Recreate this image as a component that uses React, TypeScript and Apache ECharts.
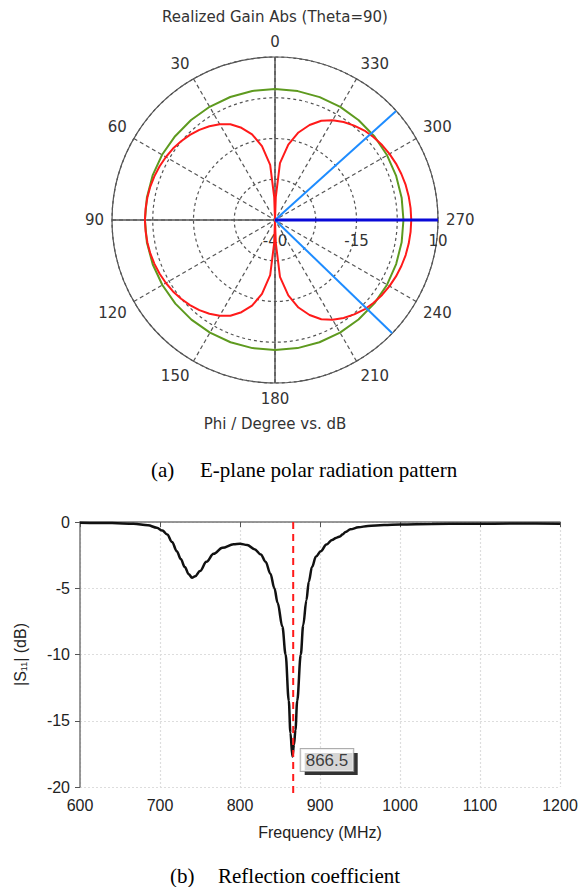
import React, { useEffect, useRef } from 'react';
import * as echarts from 'echarts';

// ---------- Polar (E-plane) data ----------
const angleTicks = [0, 30, 60, 90, 120, 150, 180, 210, 240, 270, 300, 330];
const radiusMin = -40;
const radiusMax = 10;

const redPhi = [0, 2, 5, 10, 15, 20, 25, 30, 35, 40, 45, 50, 55, 60, 65, 70, 75, 80, 85, 90, 95, 100, 105, 110, 115, 120, 125, 130, 135, 140, 145, 150, 155, 160, 165, 170, 175, 178, 180, 182, 185, 190, 195, 200, 205, 210, 215, 220, 225, 230, 235, 240, 245, 250, 255, 260, 265, 270, 275, 280, 285, 290, 295, 300, 305, 310, 315, 320, 325, 330, 335, 340, 345, 350, 355, 358, 360];
const redGain = [-40, -33, -23, -17, -12.8, -9.9, -7.6, -6.1, -4.9, -3.9, -3.1, -2.4, -1.8, -1.35, -0.95, -0.65, -0.4, -0.25, -0.15, -0.1, -0.15, -0.25, -0.4, -0.65, -0.95, -1.35, -1.8, -2.4, -3.1, -3.9, -4.9, -6.1, -7.6, -9.9, -12.8, -17, -23, -33, -40, -33, -22.5, -16.5, -12.2, -9.0, -6.4, -4.7, -3.3, -2.2, -1.2, -0.5, 0.1, 0.55, 0.95, 1.25, 1.5, 1.65, 1.75, 1.8, 1.75, 1.65, 1.5, 1.25, 0.95, 0.55, 0.1, -0.5, -1.2, -2.2, -3.3, -4.7, -6.4, -9.0, -12.2, -16.5, -22.5, -33, -40];

const greenPhi = [0, 10, 20, 30, 40, 50, 60, 70, 80, 90, 100, 110, 120, 130, 140, 150, 160, 170, 180, 190, 200, 210, 220, 230, 240, 250, 260, 270, 280, 290, 300, 310, 320, 330, 340, 350, 360];
const greenGain = [0.2, 0.2, 0.15, 0.1, 0.05, 0.0, 0.0, -0.05, -0.1, -0.1, -0.1, -0.1, -0.1, -0.1, -0.1, -0.1, -0.1, -0.1, -0.1, -0.1, -0.1, -0.1, -0.15, -0.2, -0.3, -0.45, -0.55, -0.6, -0.55, -0.45, -0.3, -0.15, -0.05, 0.05, 0.1, 0.15, 0.2];

const beamEdgePhi = [312, 226];
const mainBeamPhi = 270;

// ---------- S11 data ----------
const freqMHz = [600, 640, 667, 685, 696, 703, 709, 715, 721, 726, 731, 736, 740, 744, 750, 758, 767, 778, 792, 800, 809, 818, 826, 832, 838, 843, 847, 853, 857, 861, 863, 865.5, 867.5, 869.3, 871.5, 876, 879, 883, 886, 890, 895, 901, 908, 915, 920, 925, 928, 932, 938, 948, 960, 980, 1000, 1040, 1084, 1150, 1200];
const s11dB = [-0.05, -0.08, -0.13, -0.25, -0.43, -0.65, -0.95, -1.5, -2.2, -2.8, -3.4, -3.95, -4.2, -4.1, -3.7, -3.0, -2.4, -1.95, -1.68, -1.65, -1.73, -2.05, -2.45, -3.0, -3.9, -5.0, -6.1, -7.9, -10.0, -13.5, -15.9, -17.7, -16.8, -15.7, -13.5, -10.0, -7.8, -5.9, -4.5, -3.4, -2.6, -2.2, -1.7, -1.35, -1.2, -1.1, -0.95, -0.75, -0.55, -0.4, -0.3, -0.23, -0.18, -0.15, -0.13, -0.12, -0.13];
const markerFreq = 866.5;
const markerDb = -17.7;
const markerLabel = '866.5';

const POLAR_FONT = '"DejaVu Sans", sans-serif';
const ARIAL = '"Liberation Sans", Arial, sans-serif';
const SERIF = '"Liberation Serif", "Times New Roman", serif';

function buildOption() {
  const redData = redPhi.map((p, i) => [redGain[i], p]);
  const greenData = greenPhi.map((p, i) => [greenGain[i], p]);
  const s11Data = freqMHz.map((f, i) => [f, s11dB[i]]);

  const polarLine = (name: string, data: any[], color: string, width: number, z = 3) => ({
    name,
    type: 'line',
    coordinateSystem: 'polar',
    polarIndex: 0,
    data,
    symbol: 'none',
    silent: true,
    z,
    lineStyle: { color, width },
  });

  return {
    animation: false,
    backgroundColor: '#fff',
    title: [
      {
        text: 'Realized Gain Abs (Theta=90)',
        left: 275,
        top: 9,
        textAlign: 'center',
        padding: 0,
        textStyle: { fontSize: 15, fontWeight: 'normal', color: '#333', fontFamily: POLAR_FONT },
      },
      {
        text: 'Phi / Degree vs. dB',
        left: 275,
        top: 416,
        textAlign: 'center',
        padding: 0,
        textStyle: { fontSize: 15, fontWeight: 'normal', color: '#333', fontFamily: POLAR_FONT },
      },
    ],
    polar: [
      { center: [275, 220], radius: 163 },
      { center: [275, 220], radius: 163 },
    ],
    angleAxis: [
      {
        polarIndex: 0,
        type: 'value',
        min: 0,
        max: 360,
        interval: 30,
        startAngle: 90,
        clockwise: false,
        axisLine: { lineStyle: { color: '#555', width: 1.2 } },
        axisTick: { show: false },
        axisLabel: {
          margin: 8,
          fontSize: 15,
          color: '#333',
          fontFamily: POLAR_FONT,
          formatter: (v: number) => (angleTicks.indexOf(v) >= 0 ? String(v) : ''),
        },
        splitLine: { show: true, lineStyle: { color: '#555', width: 1.2, type: [4, 3] } },
      },
      {
        polarIndex: 1,
        type: 'value',
        min: 0,
        max: 360,
        startAngle: 0,
        clockwise: false,
        show: false,
      },
    ],
    radiusAxis: [
      {
        polarIndex: 0,
        type: 'value',
        min: radiusMin,
        max: radiusMax,
        interval: 12.5,
        axisLine: { show: false },
        axisTick: { show: false },
        axisLabel: { show: false },
        splitLine: { show: true, lineStyle: { color: '#555', width: 1.2, type: [3, 3] } },
      },
      {
        polarIndex: 1,
        type: 'value',
        min: radiusMin,
        max: radiusMax,
        interval: 25,
        axisLine: { show: false },
        axisTick: { show: false },
        splitLine: { show: false },
        axisLabel: { margin: -28, fontSize: 15, color: '#333', fontFamily: POLAR_FONT },
      },
    ],
    grid: { left: 80, right: 21, top: 522, height: 265, containLabel: false },
    xAxis: {
      type: 'value',
      min: 600,
      max: 1200,
      interval: 100,
      name: 'Frequency (MHz)',
      nameLocation: 'middle',
      nameGap: 37,
      nameTextStyle: { fontSize: 16, color: '#222', fontFamily: ARIAL },
      axisLine: { lineStyle: { color: '#777', width: 1.5 } },
      axisTick: { show: true, length: 5, lineStyle: { color: '#555' } },
      axisLabel: { fontSize: 16, color: '#222', fontFamily: ARIAL, margin: 10, formatter: (v: number) => String(v) },
      splitLine: { show: true, lineStyle: { color: '#ddd', type: [2, 2], width: 1.2 } },
    },
    yAxis: {
      type: 'value',
      min: -20,
      max: 0,
      interval: 5,
      name: '|S{sub|11}| (dB)',
      nameLocation: 'middle',
      nameGap: 52,
      nameRotate: 90,
      nameTextStyle: {
        fontSize: 16,
        color: '#222',
        fontFamily: ARIAL,
        rich: { sub: { fontSize: 9, color: '#222', fontFamily: ARIAL, verticalAlign: 'bottom', padding: [6, 0, 0, 0] } },
      },
      axisLine: { show: true, lineStyle: { color: '#777', width: 1.5 } },
      axisTick: { show: true, length: 5, lineStyle: { color: '#555' } },
      axisLabel: { fontSize: 16, color: '#222', fontFamily: ARIAL, margin: 10, formatter: (v: number) => String(v) },
      splitLine: { show: true, lineStyle: { color: '#ddd', type: [2, 2], width: 1.2 } },
    },
    series: [
      polarLine('axis0', [[radiusMax, 0], [radiusMax, 180]], '#555', 1.5, 2),
      polarLine('axis90', [[radiusMax, 90], [radiusMax, 270]], '#555', 1.5, 2),
      polarLine('Reference', greenData, '#5e9a1f', 2),
      polarLine('Realized Gain', redData, '#ff1a1a', 2),
      polarLine('beam1', [[radiusMin, beamEdgePhi[0]], [radiusMax, beamEdgePhi[0]]], '#1e8cff', 2),
      polarLine('beam2', [[radiusMin, beamEdgePhi[1]], [radiusMax, beamEdgePhi[1]]], '#1e8cff', 2),
      polarLine('main', [[radiusMin, mainBeamPhi], [radiusMax, mainBeamPhi]], '#0a0ad8', 3, 4),
      {
        name: 'S11',
        type: 'line',
        xAxisIndex: 0,
        yAxisIndex: 0,
        data: s11Data,
        symbol: 'none',
        smooth: 0.35,
        smoothMonotone: 'x',
        lineStyle: { color: '#111', width: 2.5 },
        z: 3,
      },
      {
        name: 'marker',
        type: 'line',
        data: [[markerFreq, 0], [markerFreq, -20.8]],
        symbol: 'none',
        clip: false,
        lineStyle: { color: '#ff1a1a', width: 2, type: [7, 5] },
        z: 4,
      },
      {
        name: 'markerShadow',
        type: 'scatter',
        data: [[markerFreq, markerDb]],
        symbolSize: 1,
        itemStyle: { color: 'rgba(0,0,0,0)' },
        z: 5,
        label: {
          show: true,
          formatter: '{box|}',
          position: [12, -3],
          rich: { box: { width: 53, height: 22, backgroundColor: '#000' } },
        },
      },
      {
        name: 'markerLabel',
        type: 'scatter',
        data: [[markerFreq, markerDb]],
        symbolSize: 1,
        itemStyle: { color: 'rgba(0,0,0,0)' },
        z: 6,
        label: {
          show: true,
          formatter: markerLabel,
          position: [8, -7],
          fontSize: 17,
          fontFamily: ARIAL,
          color: '#111',
          backgroundColor: '#fff',
          borderColor: '#999',
          borderWidth: 1,
          padding: [1, 5],
          lineHeight: 20,
        },
      },
    ],
    graphic: [
      { type: 'text', left: 151, top: 459, style: { text: '(a)', font: `21px ${SERIF}`, fill: '#000' } },
      { type: 'text', left: 200, top: 459, style: { text: 'E-plane polar radiation pattern', font: `21px ${SERIF}`, fill: '#000' } },
      { type: 'text', left: 170, top: 865, style: { text: '(b)', font: `21px ${SERIF}`, fill: '#000' } },
      { type: 'text', left: 218, top: 865, style: { text: 'Reflection coefficient', font: `21px ${SERIF}`, fill: '#000' } },
    ],
  };
}

export default function App() {
  const ref = useRef<HTMLDivElement>(null);
  useEffect(() => {
    if (!ref.current) return;
    const chart = echarts.init(ref.current, null, { renderer: 'svg' });
    chart.setOption(buildOption() as any);
    return () => chart.dispose();
  }, []);
  return (
    <div
      ref={ref}
      style={{ position: 'absolute', left: 0, top: 0, width: 581, height: 887, background: '#fff' }}
    />
  );
}
